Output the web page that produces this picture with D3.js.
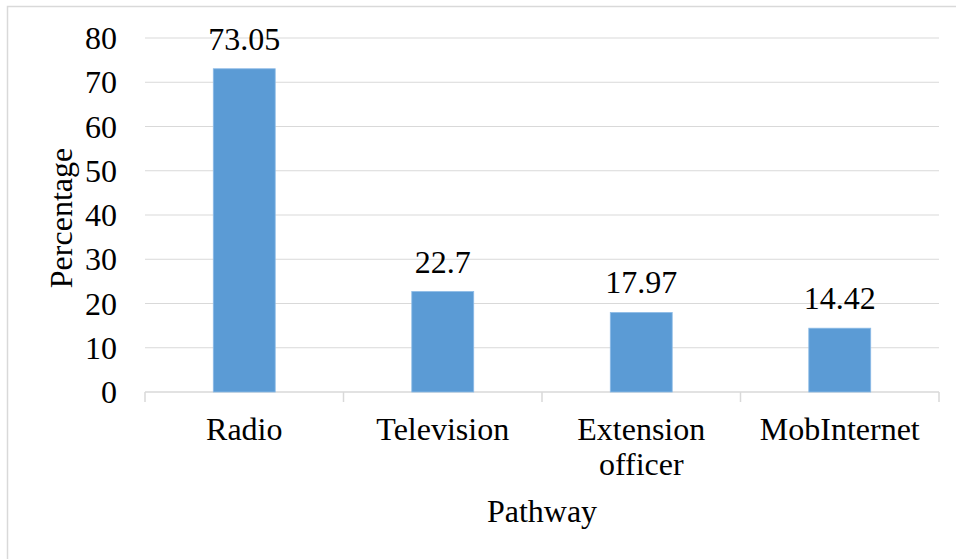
<!DOCTYPE html>
<html>
<head>
<meta charset="utf-8">
<script src="https://cdn.jsdelivr.net/npm/d3@7"></script>
<style>
  body { margin: 0; background: #fff; }
  svg text { font-family: "Liberation Serif", "Times New Roman", Times, serif !important; fill: #000; }
</style>
</head>
<body>
<div id="chart"></div>
<script>
/* Percentage by pathway */

const pathways = ["Radio", "Television", "Extension officer", "MobInternet"];
const percentages = [73.05, 22.7, 17.97, 14.42];
const labels = ["73.05", "22.7", "17.97", "14.42"];
const yTicks = [0, 10, 20, 30, 40, 50, 60, 70, 80];

const data = pathways.map((p, i) => ({ pathway: p, value: percentages[i], label: labels[i] }));

const width = 956,
      height = 559,
      margin = ({ top: 38, right: 17, bottom: 167, left: 145 });

const serif = "'Liberation Serif', 'Times New Roman', Times, serif";

let svg = d3.select("#chart")
    .append("svg")
    .attr("width", width)
    .attr("height", height)
    .style("font-family", serif);

// chart border (runs off the right and bottom edges)
svg.append("rect")
    .attr("x", 7.5)
    .attr("y", 6.5)
    .attr("width", width)
    .attr("height", height)
    .attr("fill", "none")
    .attr("stroke", "#d9d9d9")
    .attr("stroke-width", 1.5);

let x = d3.scaleBand()
    .domain(pathways)
    .range([margin.left, width - margin.right])
    .paddingInner(0.688)
    .paddingOuter(0.344);

let y = d3.scaleLinear()
    .domain([0, 80])
    .range([height - margin.bottom, margin.top]);

// gridlines
svg.append("g")
    .selectAll("line")
    .data(yTicks.filter(d => d > 0))
    .join("line")
    .attr("x1", margin.left)
    .attr("x2", width - margin.right)
    .attr("y1", d => y(d))
    .attr("y2", d => y(d))
    .attr("stroke", "#d9d9d9")
    .attr("stroke-width", 1.2);

// y axis labels
svg.append("g")
    .attr("transform", `translate(${margin.left},0)`)
    .call(d3.axisLeft(y).tickValues(yTicks).tickSize(0).tickPadding(28))
    .attr("font-family", serif)
    .call(g => g.select(".domain").remove())
    .call(g => g.selectAll("text")
        .attr("font-size", 32)
        .style("font-family", serif)
        .attr("dy", "0.33em"));

// x axis: baseline and boundary ticks
let step = x.step();
let bounds = d3.range(pathways.length + 1).map(i => margin.left + i * step);

let xa = svg.append("g");
xa.append("line")
    .attr("x1", margin.left)
    .attr("x2", width - margin.right)
    .attr("y1", y(0))
    .attr("y2", y(0))
    .attr("stroke", "#d9d9d9")
    .attr("stroke-width", 1.5);
xa.selectAll(".tk")
    .data(bounds)
    .join("line")
    .attr("class", "tk")
    .attr("x1", d => d)
    .attr("x2", d => d)
    .attr("y1", y(0))
    .attr("y2", y(0) + 10)
    .attr("stroke", "#d9d9d9")
    .attr("stroke-width", 1.5);

// category labels ("Extension officer" wraps onto two lines)
let cat = svg.append("g")
    .selectAll("text")
    .data(pathways)
    .join("text")
    .attr("x", d => x(d) + x.bandwidth() / 2)
    .attr("y", y(0) + 48)
    .attr("text-anchor", "middle")
    .attr("font-size", 32);
cat.each(function(d) {
    let lines = d === "Extension officer" ? ["Extension", "officer"] : [d];
    d3.select(this).selectAll("tspan")
        .data(lines)
        .join("tspan")
        .attr("x", x(d) + x.bandwidth() / 2)
        .attr("dy", (l, i) => i === 0 ? 0 : 35)
        .text(l => l);
});

// bars
let bar = svg.selectAll(".bar")
    .data(data)
    .join("g")
    .attr("class", "bar");

bar.append("rect")
    .attr("fill", "#5b9bd5")
    .attr("stroke", "#8dbbe6")
    .attr("stroke-width", 0.8)
    .attr("x", d => x(d.pathway))
    .attr("width", x.bandwidth())
    .attr("y", d => y(d.value))
    .attr("height", d => y(0) - y(d.value));

bar.append("text")
    .text(d => d.label)
    .attr("x", d => x(d.pathway) + x.bandwidth() / 2)
    .attr("y", d => y(d.value) - 19)
    .attr("text-anchor", "middle")
    .attr("font-size", 32);

// axis titles
svg.append("text")
    .text("Pathway")
    .attr("x", (margin.left + width - margin.right) / 2)
    .attr("y", 522)
    .attr("text-anchor", "middle")
    .attr("font-size", 32);

svg.append("text")
    .text("Percentage")
    .attr("transform", `translate(72,${(y(0) + y(80)) / 2 + 3}) rotate(-90)`)
    .attr("text-anchor", "middle")
    .attr("font-size", 32);
</script>
</body>
</html>
